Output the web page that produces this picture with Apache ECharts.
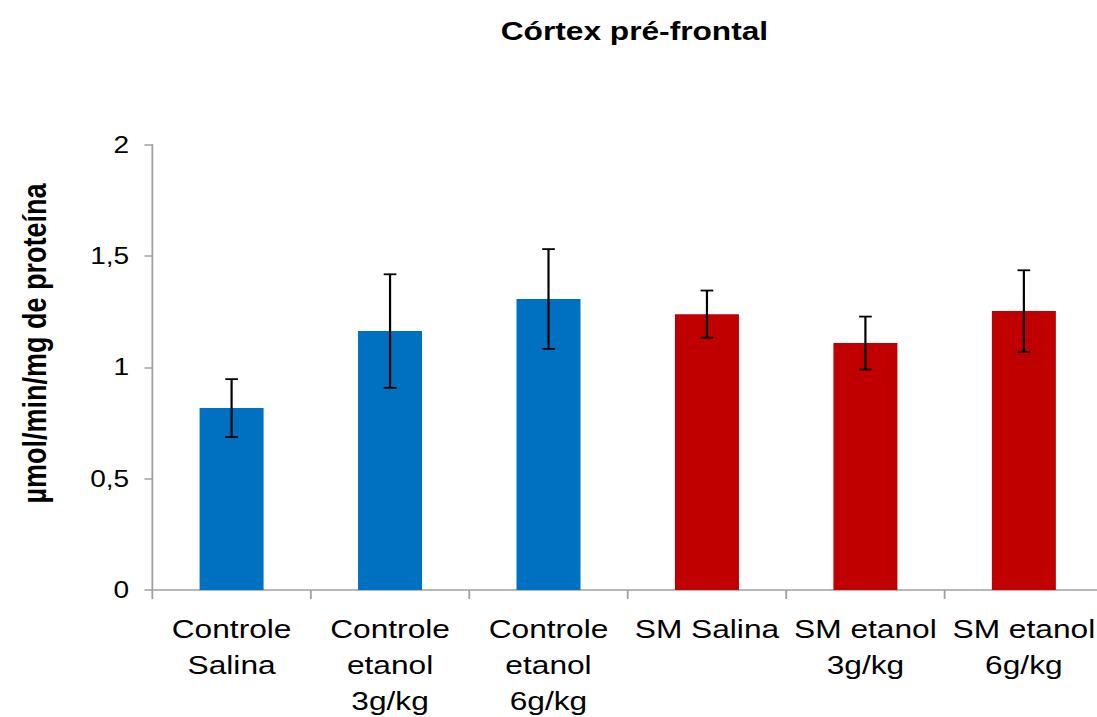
<!DOCTYPE html>
<html>
<head>
<meta charset="utf-8">
<script src="https://cdn.jsdelivr.net/npm/echarts@6/dist/echarts.min.js"></script>
<style>
html,body{margin:0;padding:0;background:#fff;overflow:hidden;}
#chart{width:900px;height:717px;transform:scaleX(1.218889);transform-origin:0 0;}
</style>
</head>
<body>
<div id="chart"></div>
<script>
const title = 'Córtex pré-frontal';
const yAxisTitle = 'µmol/min/mg de proteína';
const categories = ['Controle\nSalina', 'Controle\netanol\n3g/kg', 'Controle\netanol\n6g/kg', 'SM Salina', 'SM etanol\n3g/kg', 'SM etanol\n6g/kg'];
const means = [0.817, 1.163, 1.307, 1.239, 1.109, 1.253];
const errors = [0.130, 0.255, 0.224, 0.106, 0.119, 0.183];
const yTickValues = [0, 0.5, 1, 1.5, 2];
const yTickLabels = ['0', '0,5', '1', '1,5', '2'];

const barColors = ['#0070C0', '#0070C0', '#0070C0', '#C00000', '#C00000', '#C00000'];
const FONT = '"Liberation Sans", Arial, sans-serif';

const chart = echarts.init(document.getElementById('chart'), null, {renderer: 'svg'});
const errData = means.map((m, i) => [i, m - errors[i], m + errors[i]]);

chart.setOption({
  animation: false,
  backgroundColor: '#fff',
  title: {
    text: title,
    left: 515.5, top: 13, textAlign: 'center',
    textStyle: {fontFamily: FONT, fontSize: 26, fontWeight: 'bold', color: '#000'}
  },
  graphic: [{
    type: 'text',
    x: 28, y: 343.5,
    rotation: Math.PI / 2,
    style: {
      text: yAxisTitle, fontFamily: FONT, fontSize: 27, fontWeight: 'bold', fill: '#000',
      textAlign: 'center', textVerticalAlign: 'middle'
    }
  }],
  grid: {left: 125, right: -5, top: 144.7, bottom: 127, outerBoundsMode: 'none', containLabel: false},
  xAxis: {
    type: 'category',
    data: categories,
    axisLine: {lineStyle: {color: '#a0a0a0', width: 1.5}},
    axisTick: {show: true, length: 9, lineStyle: {color: '#a0a0a0', width: 1.5}},
    axisLabel: {
      interval: 0, margin: 21, color: '#000', fontFamily: FONT, fontSize: 26, lineHeight: 36, align: 'center'
    },
    splitLine: {show: false}
  },
  yAxis: {
    type: 'value', min: 0, max: 2, interval: 0.5,
    axisLine: {show: true, lineStyle: {color: '#a0a0a0', width: 1.5}},
    axisTick: {show: true, length: 6.5, lineStyle: {color: '#a0a0a0', width: 1.5}},
    axisLabel: {
      margin: 19, color: '#000', fontFamily: FONT, fontSize: 23,
      formatter: v => {
        const i = yTickValues.findIndex(t => Math.abs(t - v) < 1e-9);
        return i >= 0 ? yTickLabels[i] : '';
      }
    },
    splitLine: {show: false}
  },
  series: [{
    type: 'bar',
    data: means,
    barWidth: 52.5,
    itemStyle: {color: p => barColors[p.dataIndex]}
  }, {
    type: 'custom',
    data: errData,
    z: 10,
    renderItem: (params, api) => {
      const lo = api.coord([api.value(0), api.value(1)]);
      const hi = api.coord([api.value(0), api.value(2)]);
      const hw = 5.2;
      const st = {stroke: '#000', lineWidth: 1.8};
      return {type: 'group', children: [
        {type: 'line', shape: {x1: lo[0], y1: lo[1], x2: hi[0], y2: hi[1]}, style: st},
        {type: 'line', shape: {x1: lo[0] - hw, y1: lo[1], x2: lo[0] + hw, y2: lo[1]}, style: st},
        {type: 'line', shape: {x1: hi[0] - hw, y1: hi[1], x2: hi[0] + hw, y2: hi[1]}, style: st}
      ]};
    }
  }]
});
</script>
</body>
</html>
